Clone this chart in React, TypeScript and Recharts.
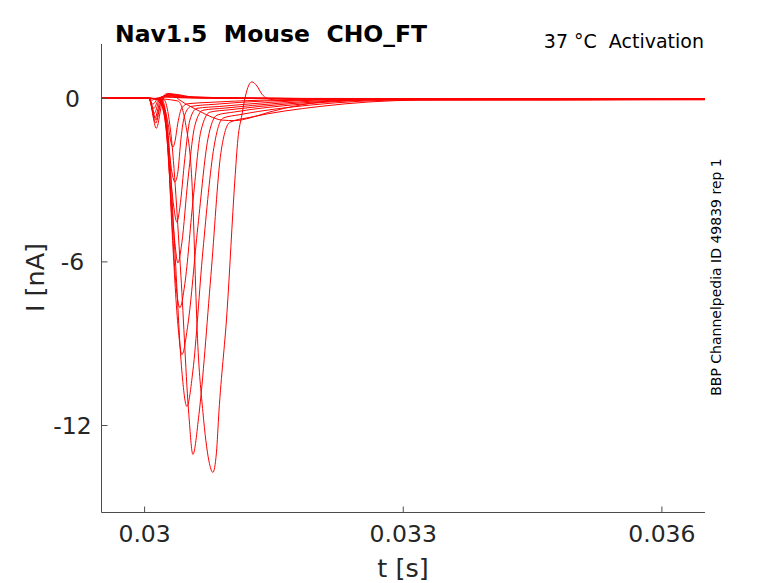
import React from 'react';
import { LineChart, Line, XAxis, YAxis } from 'recharts';

// ---- axis values ----
const X_TICKS = [0.03, 0.033, 0.036];
const Y_TICKS = [-12, -6, 0];
const X_DOMAIN: [number, number] = [0.0295, 0.0365];
const Y_DOMAIN: [number, number] = [-15.19, 1.99];

// ---- traces: time [s] and current [nA] ----
const T_S1 = [0.0295, 0.030049, 0.030084, 0.03013, 0.030235, 0.030409, 0.030873, 0.032963, 0.0365];
const I_S1 = [0, 0, -0.07, 0, 0.04, 0.02, 0, -0.01, -0.01];
const T_S2 = [0.0295, 0.030049, 0.030096, 0.030142, 0.030177, 0.030246, 0.030409, 0.030989, 0.032963, 0.0365];
const I_S2 = [0, 0, -0.22, -0.05, 0.02, 0.07, 0.03, 0, -0.02, -0.02];
const T_S3 = [0.0295, 0.030049, 0.030107, 0.030154, 0.030188, 0.030258, 0.030467, 0.031106, 0.032963, 0.0365];
const I_S3 = [0, 0, -0.37, -0.08, 0.04, 0.09, 0.03, 0, -0.02, -0.03];
const T_S4 = [0.0295, 0.030049, 0.030113, 0.030165, 0.0302, 0.03027, 0.030467, 0.031222, 0.033543, 0.0365];
const I_S4 = [0, 0, -0.55, -0.1, 0.05, 0.11, 0.04, 0, -0.03, -0.03];
const T_S5 = [0.0295, 0.030049, 0.030119, 0.030177, 0.030212, 0.030281, 0.030525, 0.031338, 0.033543, 0.0365];
const I_S5 = [0, 0, -0.73, -0.12, 0.06, 0.13, 0.04, 0, -0.03, -0.04];
const T_S6 = [0.0295, 0.030049, 0.03013, 0.030188, 0.030223, 0.030293, 0.030525, 0.031338, 0.034124, 0.0365];
const I_S6 = [0, 0, -0.91, -0.15, 0.08, 0.15, 0.05, 0, -0.04, -0.04];
const T_S7 = [0.0295, 0.030049, 0.030136, 0.0302, 0.030235, 0.030305, 0.030583, 0.031454, 0.034124, 0.0365];
const I_S7 = [0, 0, -1.1, -0.2, 0.08, 0.16, 0.04, 0, -0.04, -0.05];
const T_T0 = [0.0295, 0.030049, 0.030096, 0.03013, 0.030165, 0.030212, 0.03027, 0.030316, 0.030409, 0.030525, 0.030641, 0.030757, 0.030897, 0.031047, 0.031222, 0.031454, 0.031802, 0.032266, 0.032963, 0.034704, 0.0365];
const I_T0 = [0, 0, -0.4, -0.8, -0.4, 0.05, 0.18, 0.15, -0.07, -0.29, -0.48, -0.66, -0.8, -0.82, -0.72, -0.5, -0.25, -0.08, -0.03, -0.05, -0.04];
const T_L1 = [0.0295, 0.030049, 0.030154, 0.030223, 0.03027, 0.030305, 0.030328, 0.030351, 0.030386, 0.030432, 0.030502, 0.030757, 0.031338, 0.032383, 0.034124, 0.0365];
const I_L1 = [0, 0, -0.05, -0.3, -0.9, -1.6, -1.79, -1.6, -0.9, -0.35, -0.2, -0.15, -0.07, -0.02, -0.03, -0.03];
const T_L2 = [0.0295, 0.030049, 0.030154, 0.030212, 0.03027, 0.030316, 0.030351, 0.030386, 0.030421, 0.030467, 0.030537, 0.030815, 0.031396, 0.032499, 0.034124, 0.0365];
const I_L2 = [0, 0, -0.05, -0.4, -1.5, -2.7, -3.07, -2.7, -1.5, -0.6, -0.3, -0.22, -0.1, -0.03, -0.04, -0.03];
const T_L3 = [0.0295, 0.030049, 0.030165, 0.030223, 0.030281, 0.030339, 0.030374, 0.030409, 0.030467, 0.030525, 0.030606, 0.030873, 0.031454, 0.032615, 0.034124, 0.0365];
const I_L3 = [0, 0, -0.05, -0.5, -2.2, -4.0, -4.54, -4.0, -2.2, -0.8, -0.37, -0.3, -0.15, -0.03, -0.04, -0.03];
const T_L4 = [0.0295, 0.030049, 0.030177, 0.030235, 0.030293, 0.030351, 0.030386, 0.030432, 0.030502, 0.030583, 0.030676, 0.030931, 0.03157, 0.032731, 0.034704, 0.0365];
const I_L4 = [0, 0, -0.05, -0.6, -3.0, -5.3, -6.04, -5.3, -3.0, -1.0, -0.44, -0.36, -0.18, -0.04, -0.05, -0.04];
const T_L5 = [0.0295, 0.030049, 0.030177, 0.030246, 0.030305, 0.030363, 0.030409, 0.030467, 0.03056, 0.030653, 0.030757, 0.030989, 0.031686, 0.032847, 0.034704, 0.0365];
const I_L5 = [0, 0, -0.05, -0.8, -3.8, -6.8, -7.68, -6.8, -3.8, -1.2, -0.51, -0.42, -0.2, -0.05, -0.05, -0.04];
const T_L6 = [0.0295, 0.030049, 0.030188, 0.030258, 0.030316, 0.030386, 0.030432, 0.030502, 0.030618, 0.030734, 0.030839, 0.031047, 0.031802, 0.032963, 0.035285, 0.0365];
const I_L6 = [0, 0, -0.05, -1.0, -4.7, -8.3, -9.4, -8.3, -4.7, -1.5, -0.62, -0.5, -0.22, -0.05, -0.05, -0.04];
const T_L7 = [0.0295, 0.030049, 0.0302, 0.03027, 0.030351, 0.030432, 0.03049, 0.03056, 0.030676, 0.030804, 0.030908, 0.031106, 0.031918, 0.033079, 0.035285, 0.0365];
const I_L7 = [0, 0, -0.05, -1.2, -5.6, -10.0, -11.3, -10.0, -5.6, -1.8, -0.73, -0.6, -0.25, -0.06, -0.05, -0.05];
const T_L8 = [0.0295, 0.030049, 0.030223, 0.030305, 0.030421, 0.030513, 0.03056, 0.03063, 0.030769, 0.030885, 0.030989, 0.031222, 0.032034, 0.033195, 0.035285, 0.0365];
const I_L8 = [0, 0, -0.05, -1.3, -6.5, -11.6, -13.06, -11.6, -6.5, -2.0, -0.88, -0.7, -0.3, -0.07, -0.06, -0.05];
const T_L9 = [0.0295, 0.030049, 0.030386, 0.030479, 0.030548, 0.030618, 0.030676, 0.030746, 0.030792, 0.030833, 0.030862, 0.030955, 0.031047, 0.031082, 0.031129, 0.031164, 0.031198, 0.031245, 0.031303, 0.031361, 0.031419, 0.03157, 0.032034, 0.032963, 0.034704, 0.0365];
const I_L9 = [0, 0, -0.1, -1.0, -3.0, -9.1, -11.5, -13.3, -13.72, -13.0, -11.5, -7.87, -3.0, -1.5, -0.6, 0, 0.4, 0.6, 0.45, 0.15, 0, -0.08, -0.05, -0.02, -0.04, -0.03];

const TRACE_TIMES = [T_S1, T_S2, T_S3, T_S4, T_S5, T_S6, T_S7, T_T0, T_L1, T_L2, T_L3, T_L4, T_L5, T_L6, T_L7, T_L8, T_L9];
const TRACE_CURRENTS = [I_S1, I_S2, I_S3, I_S4, I_S5, I_S6, I_S7, I_T0, I_L1, I_L2, I_L3, I_L4, I_L5, I_L6, I_L7, I_L8, I_L9];

const traces = TRACE_TIMES.map((ts, k) => ts.map((t, j) => ({ t, i: TRACE_CURRENTS[k][j] })));

const FONT = "'DejaVu Sans', sans-serif";
const TEXT_COLOR = '#262626';
const AXIS_COLOR = '#4d4d4d';
const TRACE_COLOR = '#ff0000';

const XTick = (props: any) => {
  const { x, y, payload } = props;
  return (
    <text x={x} y={y + 29.5} textAnchor="middle" fontFamily={FONT} fontSize={23.5} fill={TEXT_COLOR}>
      {String(payload.value)}
    </text>
  );
};

const YTick = (props: any) => {
  const { x, y, payload } = props;
  return (
    <text x={x - 29} y={y + 8.5} textAnchor="middle" fontFamily={FONT} fontSize={23.5} fill={TEXT_COLOR}>
      {String(payload.value)}
    </text>
  );
};

export default function App() {
  return (
    <div style={{ position: 'absolute', left: 0, top: 0, width: 778, height: 583, background: '#ffffff' }}>
      <LineChart width={778} height={583} margin={{ top: 44, right: 73, bottom: 69.5, left: 100.5 }}>
        <XAxis
          type="number"
          dataKey="t"
          domain={X_DOMAIN}
          ticks={X_TICKS}
          interval={0}
          allowDataOverflow
          height={1}
          axisLine={{ stroke: AXIS_COLOR, strokeWidth: 1 }}
          tickLine={{ stroke: AXIS_COLOR, strokeWidth: 1 }}
          tickSize={-6}
          tickMargin={6}
          tick={<XTick />}
        />
        <YAxis
          type="number"
          dataKey="i"
          domain={Y_DOMAIN}
          ticks={Y_TICKS}
          interval={0}
          allowDataOverflow
          width={1}
          axisLine={{ stroke: AXIS_COLOR, strokeWidth: 1 }}
          tickLine={{ stroke: AXIS_COLOR, strokeWidth: 1 }}
          tickSize={-6}
          tickMargin={6}
          tick={<YTick />}
        />
        {traces.map((d, k) => (
          <Line
            key={k}
            data={d}
            dataKey="i"
            type="monotone"
            stroke={TRACE_COLOR}
            strokeWidth={1}
            dot={false}
            activeDot={false}
            isAnimationActive={false}
          />
        ))}
      </LineChart>
      <svg
        width={778}
        height={583}
        style={{ position: 'absolute', left: 0, top: 0, pointerEvents: 'none' }}
      >
        <text x={115} y={42} fontFamily={FONT} fontWeight="bold" fontSize={23.5} fill="#000" style={{ whiteSpace: 'pre' }}>
          {'Nav1.5  Mouse  CHO_FT'}
        </text>
        <text x={704} y={48} textAnchor="end" fontFamily={FONT} fontSize={19} fill="#000" style={{ whiteSpace: 'pre' }}>
          {'37 °C  Activation'}
        </text>
        <text x={403} y={576.5} textAnchor="middle" fontFamily={FONT} fontSize={25.5} fill={TEXT_COLOR}>
          t [s]
        </text>
        <text
          x={43.5}
          y={277.5}
          textAnchor="middle"
          fontFamily={FONT}
          fontSize={25.5}
          fill={TEXT_COLOR}
          transform="rotate(-90 43.5 277.5)"
        >
          I [nA]
        </text>
        <text
          x={721}
          y={277}
          textAnchor="middle"
          fontFamily={FONT}
          fontSize={14}
          fill="#000"
          transform="rotate(-90 721 277)"
        >
          BBP Channelpedia ID 49839 rep 1
        </text>
      </svg>
    </div>
  );
}
